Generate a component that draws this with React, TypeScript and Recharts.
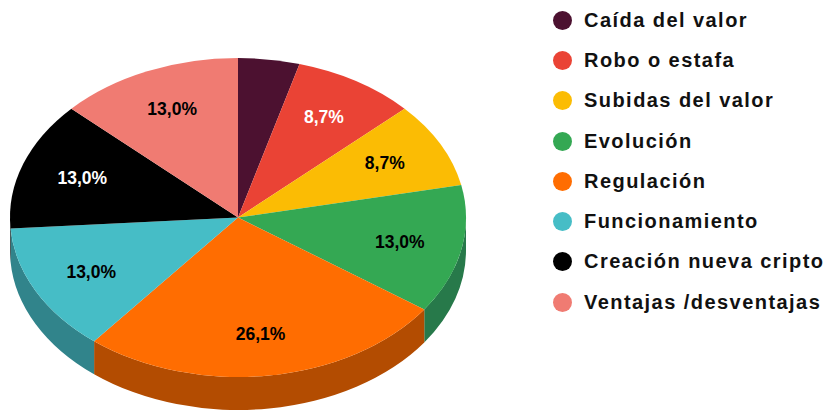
import React from 'react';
import { PieChart, Pie, Legend } from 'recharts';

const categories = ['Caída del valor', 'Robo o estafa', 'Subidas del valor', 'Evolución', 'Regulación', 'Funcionamiento', 'Creación nueva cripto', 'Ventajas /desventajas'];
const counts = [1, 2, 2, 3, 6, 3, 3, 3];
const colors = ['#4C1130', '#EA4335', '#FBBC04', '#34A853', '#FF6D01', '#46BDC6', '#000000', '#F07B72'];
const wallColors = ['#350C22', '#A42F25', '#B08403', '#27794A', '#B34C01', '#31848B', '#000000', '#A85650'];
const labelColors = ['#ffffff', '#ffffff', '#000000', '#000000', '#000000', '#000000', '#ffffff', '#000000'];

const CX = 238;
const CY = 217.5;
const RX = 228;
const RY = 159.5;
const DEPTH = 33;
const SQUASH = RY / RX;

const rows = categories.map((name, i) => ({
  name,
  value: counts[i],
  fill: colors[i],
  wall: wallColors[i],
  labelColor: labelColors[i],
}));

const rad = (a: number) => (a * Math.PI) / 180;
const px = (cx: number, a: number, rx: number) => cx + rx * Math.cos(rad(a));
const py = (cy: number, a: number, ry: number) => cy - ry * Math.sin(rad(a));

// top of the pie: same sector recharts computes, squashed into an ellipse
function TopSlice(props: any) {
  const { cx, cy, outerRadius, startAngle, endAngle, fill } = props;
  const ry = outerRadius * SQUASH;
  const large = Math.abs(startAngle - endAngle) > 180 ? 1 : 0;
  const d = `M${cx},${cy} L${px(cx, startAngle, outerRadius)},${py(cy, startAngle, ry)} A${outerRadius},${ry} 0 ${large} 1 ${px(cx, endAngle, outerRadius)},${py(cy, endAngle, ry)} Z`;
  return <path d={d} fill={fill} />;
}

// side wall, only the part of the slice on the front half is visible
function WallSlice(props: any) {
  const { cx, cy, outerRadius, startAngle, endAngle, payload } = props;
  const ry = outerRadius * SQUASH;
  const a0 = Math.min(Math.max(startAngle, endAngle), 0);
  const a1 = Math.max(Math.min(startAngle, endAngle), -180);
  if (a0 <= a1) return <g />;
  const d = `M${px(cx, a0, outerRadius)},${py(cy, a0, ry)} A${outerRadius},${ry} 0 0 1 ${px(cx, a1, outerRadius)},${py(cy, a1, ry)} L${px(cx, a1, outerRadius)},${py(cy, a1, ry) + DEPTH} A${outerRadius},${ry} 0 0 0 ${px(cx, a0, outerRadius)},${py(cy, a0, ry) + DEPTH} Z`;
  return <path d={d} fill={payload.wall} />;
}

function SliceLabel(props: any) {
  const { cx, cy, outerRadius, midAngle, percent, payload } = props;
  if (percent < 0.05) return null;
  const x = cx + 0.725 * outerRadius * Math.cos(rad(midAngle));
  const y = cy - 0.74 * outerRadius * SQUASH * Math.sin(rad(midAngle));
  return (
    <text x={x} y={y} textAnchor="middle" dominantBaseline="central" fill={payload.labelColor} fontSize={17.5} fontWeight={700} fontFamily="Liberation Sans">
      {(percent * 100).toFixed(1).replace('.', ',')}%
    </text>
  );
}

function LegendList({ payload }: any) {
  // both pies report to the legend, keep one entry per category
  const items = categories.map((name) => (payload || []).find((p: any) => p.value === name)).filter(Boolean);
  return (
    <div>
      {items.map((item: any) => (
        <div key={item.value} style={{ display: 'flex', alignItems: 'center', height: 40.3 }}>
          <span style={{ width: 19, height: 19, borderRadius: '50%', background: item.color, marginRight: 12.5, flex: 'none' }} />
          <span style={{ fontFamily: 'Liberation Sans', fontWeight: 700, fontSize: 20, letterSpacing: 1.45, color: '#111', whiteSpace: 'nowrap' }}>{item.value}</span>
        </div>
      ))}
    </div>
  );
}

export default function App() {
  return (
    <div style={{ position: 'absolute', left: 0, top: 0, width: 825, height: 411, background: '#fff' }}>
      <PieChart width={825} height={411} margin={{ top: 0, right: 0, bottom: 0, left: 0 }}>
        <Pie data={rows} dataKey="value" nameKey="name" cx={CX} cy={CY} outerRadius={RX} startAngle={90} endAngle={-270} stroke="none" legendType="none" shape={WallSlice} isAnimationActive={false} />
        <Pie data={rows} dataKey="value" nameKey="name" cx={CX} cy={CY} outerRadius={RX} startAngle={90} endAngle={-270} stroke="none" shape={TopSlice} label={SliceLabel} labelLine={false} isAnimationActive={false} />
        <Legend content={LegendList} layout="vertical" itemSorter={null} wrapperStyle={{ position: 'absolute', left: 552.5, top: 0, width: 272 }} />
      </PieChart>
    </div>
  );
}
